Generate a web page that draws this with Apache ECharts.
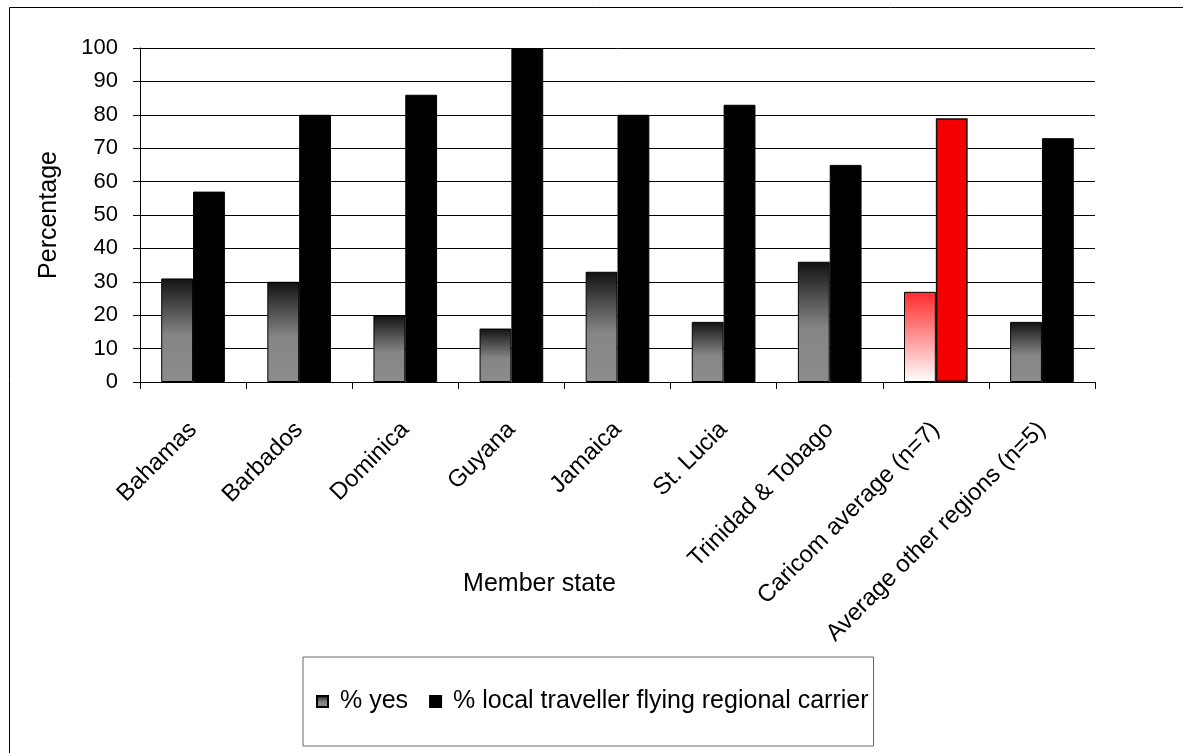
<!DOCTYPE html>
<html>
<head>
<meta charset="utf-8">
<script src="https://cdn.jsdelivr.net/npm/echarts@6/dist/echarts.min.js"></script>
<style>
html,body{margin:0;padding:0;background:#fff;}
#chart{width:1183px;height:753px;}
</style>
</head>
<body>
<div id="chart"></div>
<script>
var categories = ['Bahamas','Barbados','Dominica','Guyana','Jamaica','St. Lucia','Trinidad & Tobago','Caricom average (n=7)','Average other regions (n=5)'];
var yesValues = [31, 30, 20, 16, 33, 18, 36, 27, 18];
var localValues = [57, 80, 86, 100, 80, 83, 65, 79, 73];
var seriesNames = ['% yes', '% local traveller flying regional carrier'];
var highlightIndex = 7;

var FONT = '"Liberation Sans", Arial, sans-serif';
var grayGrad = {type:'linear',x:0,y:0,x2:0,y2:1,colorStops:[{offset:0,color:'#121212'},{offset:0.55,color:'#858585'},{offset:1,color:'#8c8c8c'}]};
var redGrad = {type:'linear',x:0,y:0,x2:0,y2:1,colorStops:[{offset:0,color:'#ff2a2a'},{offset:1,color:'#ffffff'}]};

var yesData = yesValues.map(function(v,i){
  if(i===highlightIndex) return {value:v,itemStyle:{color:redGrad,borderColor:'#000',borderWidth:1}};
  return v;
});
var localData = localValues.map(function(v,i){
  if(i===highlightIndex) return {value:v,itemStyle:{color:'#f40000',borderColor:'#111',borderWidth:1.5}};
  return v;
});

var chart = echarts.init(document.getElementById('chart'), null, {renderer:'canvas'});
chart.setOption({
  animation:false,
  backgroundColor:'#fff',
  textStyle:{fontFamily:FONT,color:'#000'},
  graphic:[{type:'rect',shape:{x:9.5,y:7.5,width:1300,height:900},style:{fill:'none',stroke:'#000',lineWidth:1},silent:true}],
  grid:{left:140,top:48,right:88,bottom:371,containLabel:false},
  legend:{
    left:303, top:657,
    orient:'horizontal',
    padding:[32,5,32,13],
    icon:'rect',
    itemWidth:11, itemHeight:11, itemGap:21,
    borderColor:'#666', borderWidth:1,
    textStyle:{fontFamily:FONT,fontSize:25,color:'#000',padding:[0,0,0,7]},
    data:seriesNames
  },
  xAxis:{
    type:'category', data:categories,
    axisLine:{lineStyle:{color:'#000',width:1}},
    axisTick:{show:true,length:7,lineStyle:{color:'#000'}},
    axisLabel:{rotate:45,interval:0,margin:44,fontSize:24,fontFamily:FONT,color:'#000'},
    name:'Member state', nameLocation:'middle', nameGap:190, nameMoveOverlap:false,
    nameTextStyle:{fontSize:25,fontFamily:FONT,color:'#000',padding:[0,156,0,0]}
  },
  yAxis:{
    type:'value', min:0, max:100, interval:10,
    axisLine:{show:true,lineStyle:{color:'#000',width:1}},
    axisTick:{show:true,length:7,lineStyle:{color:'#000'}},
    axisLabel:{margin:22,fontSize:22,fontFamily:FONT,color:'#000'},
    splitLine:{show:true,lineStyle:{color:'#000',width:1}},
    name:'Percentage', nameLocation:'middle', nameGap:78, nameMoveOverlap:false,
    nameTextStyle:{fontSize:25,fontFamily:FONT,color:'#000'}
  },
  series:[
    {name:seriesNames[0],type:'bar',data:yesData,barGap:'0%',barCategoryGap:'40%',
     itemStyle:{color:grayGrad,borderColor:'#000',borderWidth:1}},
    {name:seriesNames[1],type:'bar',data:localData,barGap:'0%',barCategoryGap:'40%',
     itemStyle:{color:'#000',borderColor:'#000',borderWidth:1}}
  ]
});
</script>
</body>
</html>
